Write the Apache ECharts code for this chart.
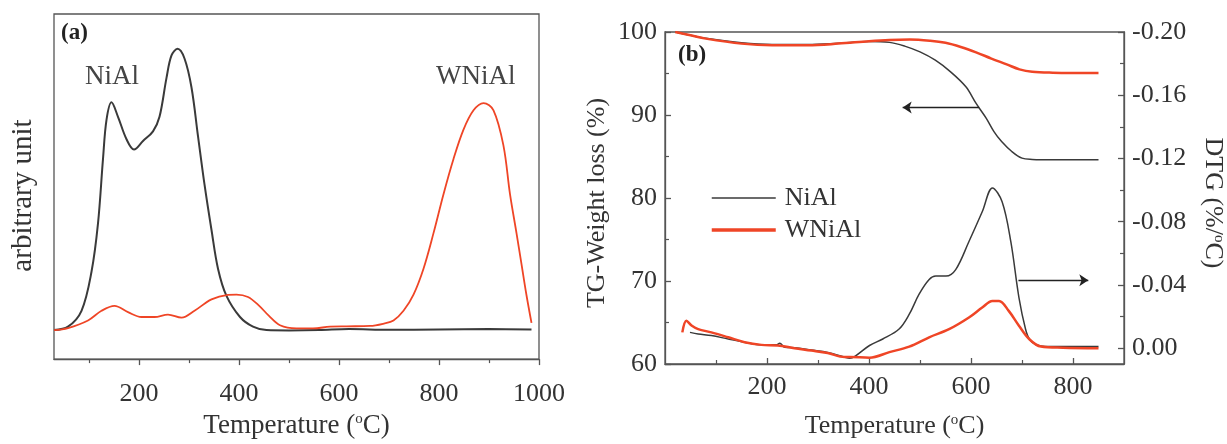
<!DOCTYPE html>
<html>
<head>
<meta charset="utf-8">
<script src="https://cdn.jsdelivr.net/npm/echarts@6/dist/echarts.min.js"></script>
<style>
  html, body { margin: 0; padding: 0; background: #fff; }
  #chart { width: 1227px; height: 444px; }
</style>
</head>
<body>
<div id="chart"></div>
<script>
// (a) reduction profiles, arbitrary units
const tprTempNiAl = [30, 58, 85, 105, 118, 128, 135, 145, 158, 175, 190, 208, 228, 241, 255, 265, 277, 291, 305, 318, 331, 345, 358, 375, 402, 428, 455, 500, 560, 620, 700, 800, 900, 985];
const tprNiAl     = [8.4, 9.4, 14, 25.3, 39.3, 58, 69.3, 74.4, 70.2, 63.7, 60.7, 63.2, 66, 70.2, 81.5, 88, 89.9, 87.1, 78.7, 64.6, 50.6, 37.4, 26.2, 18.3, 12.2, 9.4, 8.4, 8.3, 8.4, 8.7, 8.5, 8.6, 8.7, 8.6];
const tprTempWNiAl = [30, 58, 98, 125, 151, 178, 205, 231, 258, 285, 311, 345, 378, 395, 418, 440, 460, 482, 515, 548, 582, 615, 662, 690, 709, 729, 749, 769, 789, 809, 829, 849, 869, 889, 909, 929, 942, 955, 965, 975, 985];
const tprWNiAl     = [8.4, 9, 11.2, 14, 15.4, 13.6, 12.2, 12.2, 12.9, 12, 14, 17.3, 18.6, 18.7, 18, 15.5, 12.5, 9.8, 8.9, 8.9, 9.4, 9.5, 9.6, 10.3, 11.2, 14, 18.7, 26.2, 36.5, 47.8, 58, 66.5, 72.1, 74.2, 72.1, 61.8, 47.8, 36.5, 27.5, 18.5, 10.5];

// (b) thermogravimetric weight, %
const tgTempNiAl = [20, 50, 80, 150, 210, 280, 340, 400, 440, 470, 500, 530, 560, 590, 610, 630, 645, 660, 680, 700, 720, 760, 850];
const tgNiAl     = [100, 99.6, 99.25, 98.7, 98.5, 98.5, 98.65, 98.85, 98.75, 98.3, 97.6, 96.6, 95.2, 93.4, 91.4, 89.6, 88.0, 86.8, 85.6, 84.8, 84.65, 84.6, 84.6];
const tgTempWNiAl = [20, 50, 80, 150, 210, 280, 340, 400, 440, 480, 520, 550, 580, 610, 640, 670, 695, 720, 760, 850];
const tgWNiAl     = [100, 99.6, 99.2, 98.6, 98.4, 98.4, 98.6, 98.9, 99.05, 99.1, 98.95, 98.7, 98.2, 97.55, 96.8, 96.1, 95.5, 95.2, 95.1, 95.05];

// (b) derivative weight, %/°C
const dtgTempNiAl = [49, 65, 91, 124, 156, 189, 218, 225, 235, 254, 287, 319, 352, 362, 373, 401, 427, 459, 479, 498, 518, 531, 551, 570, 596, 622, 642, 661, 678, 694, 707, 715, 728, 745, 780, 850];
const dtgNiAl     = [-0.010, -0.009, -0.008, -0.0058, -0.0038, -0.0021, -0.0021, -0.0031, -0.0006, -0.0003, 0.0012, 0.0027, 0.0056, 0.0063, 0.005, -0.0017, -0.0058, -0.0121, -0.0215, -0.034, -0.0434, -0.0456, -0.0456, -0.0497, -0.0675, -0.0863, -0.1014, -0.0926, -0.0675, -0.032, -0.012, -0.0055, -0.0022, -0.001, -0.001, -0.001];
const dtgTempWNiAl = [34, 42, 52, 65, 91, 124, 156, 189, 221, 254, 287, 319, 352, 362, 401, 440, 479, 518, 557, 596, 622, 642, 655, 674, 694, 714, 737, 780, 850];
const dtgWNiAl     = [-0.010, -0.0174, -0.0143, -0.0121, -0.010, -0.0069, -0.0038, -0.0021, -0.0017, 0.0, 0.0015, 0.0031, 0.0056, 0.0056, 0.006, 0.0025, -0.001, -0.0069, -0.012, -0.0194, -0.0257, -0.0299, -0.0299, -0.0236, -0.0142, -0.0058, -0.001, -0.0003, 0.0];

// tick positions
const tprTicks = [200, 400, 600, 800, 1000];
const tprMinorTicks = [100, 300, 500, 700, 900];
const tgTicks = [200, 400, 600, 800];
const tgMinorTicks = [100, 300, 500, 700];
const dtgTicks = [-0.20, -0.16, -0.12, -0.08, -0.04, 0.00];
const dtgMinorTicks = [-0.18, -0.14, -0.10, -0.06, -0.02];

const pairs = (xs, ys) => xs.map((x, i) => [x, ys[i]]);

const SERIF = '"Liberation Serif", "Times New Roman", serif';
const INK = '#333';
const FRAME = '#555';
const BLACK = '#3a3a3a';
const RED = '#ef4526';
const supRich = { s: { fontSize: 15, fontFamily: SERIF, color: INK, verticalAlign: 'top', lineHeight: 14 } };
const noMarker = { color: 'transparent', borderWidth: 0, opacity: 0 };

const chart = echarts.init(document.getElementById('chart'), null, { renderer: 'canvas' });

const lineBase = { type: 'line', symbol: 'none', showSymbol: false, smooth: 0.35, animation: false };

chart.setOption({
  animation: false,
  backgroundColor: '#fff',
  grid: [
    { left: 54, top: 14, width: 485, height: 356, show: true, borderColor: FRAME, borderWidth: 1.3, backgroundColor: 'transparent' },
    { left: 665, top: 32, width: 461, height: 335, show: true, borderColor: FRAME, borderWidth: 1.3, backgroundColor: 'transparent' }
  ],
  xAxis: [
    {
      gridIndex: 0, type: 'value', position: 'bottom', min: 30, max: 1000,
      axisLine: { onZero: false, lineStyle: { color: FRAME, width: 1.3 } },
      axisTick: { inside: false, length: 6, customValues: tprTicks, lineStyle: { color: FRAME, width: 1.3 } },
      axisLabel: { customValues: tprTicks, margin: 22, fontFamily: SERIF, fontSize: 26, color: INK, formatter: v => String(v) },
      splitLine: { show: false },
      name: 'Temperature ({s|o}C)', nameLocation: 'middle', nameGap: 50,
      nameTextStyle: { fontFamily: SERIF, fontSize: 27, color: INK, rich: supRich }
    },
    {
      gridIndex: 0, type: 'value', position: 'bottom', min: 30, max: 1000,
      axisLine: { show: false, onZero: false },
      axisTick: { inside: false, length: 4, customValues: tprMinorTicks, lineStyle: { color: FRAME, width: 1.2 } },
      axisLabel: { show: false }, splitLine: { show: false }
    },
    {
      gridIndex: 1, type: 'value', position: 'bottom', min: 0, max: 900,
      axisLine: { onZero: false, lineStyle: { color: FRAME, width: 1.3 } },
      axisTick: { inside: true, length: 6, customValues: tgTicks, lineStyle: { color: FRAME, width: 1.3 } },
      axisLabel: { customValues: tgTicks, margin: 10, fontFamily: SERIF, fontSize: 26, color: INK, formatter: v => String(v) },
      splitLine: { show: false },
      name: 'Temperature ({s|o}C)', nameLocation: 'middle', nameGap: 49,
      nameTextStyle: { fontFamily: SERIF, fontSize: 26, color: INK, rich: supRich }
    },
    {
      gridIndex: 1, type: 'value', position: 'bottom', min: 0, max: 900,
      axisLine: { show: false, onZero: false },
      axisTick: { inside: true, length: 4, customValues: tgMinorTicks, lineStyle: { color: FRAME, width: 1.2 } },
      axisLabel: { show: false }, splitLine: { show: false }
    }
  ],
  yAxis: [
    {
      gridIndex: 0, type: 'value', min: 0, max: 100,
      axisLine: { show: false, onZero: false }, axisTick: { show: false }, axisLabel: { show: false }, splitLine: { show: false },
      name: 'arbitrary unit', nameLocation: 'middle', nameGap: 16,
      nameTextStyle: { fontFamily: SERIF, fontSize: 29, color: INK, padding: [0, 18, 0, 0] }
    },
    {
      gridIndex: 1, type: 'value', position: 'left', min: 60, max: 100, interval: 10,
      axisLine: { show: true, onZero: false, lineStyle: { color: FRAME, width: 1.3 } },
      axisTick: { inside: true, length: 6, lineStyle: { color: FRAME, width: 1.3 } },
      minorTick: { show: true, splitNumber: 2, length: 4, lineStyle: { color: FRAME, width: 1.2 } },
      axisLabel: { margin: 8, fontFamily: SERIF, fontSize: 26, color: INK },
      splitLine: { show: false },
      name: 'TG-Weight loss (%)', nameLocation: 'middle', nameGap: 55,
      nameTextStyle: { fontFamily: SERIF, fontSize: 26, color: INK, padding: [0, 10, 0, 0] }
    },
    {
      gridIndex: 1, type: 'value', position: 'right', inverse: true, min: -0.2, max: 0.01,
      axisLine: { show: true, onZero: false, lineStyle: { color: FRAME, width: 1.3 } },
      axisTick: { inside: true, length: 6, customValues: dtgTicks, lineStyle: { color: FRAME, width: 1.3 } },
      axisLabel: { customValues: dtgTicks, margin: 8, fontFamily: SERIF, fontSize: 26, color: INK,
                   formatter: v => v.toFixed(2) },
      splitLine: { show: false },
      name: 'DTG (%/{s|o}C)', nameLocation: 'middle', nameGap: 76, nameRotate: -90,
      nameTextStyle: { fontFamily: SERIF, fontSize: 26, color: INK, rich: supRich, padding: [0, 0, 0, 10] }
    },
    {
      gridIndex: 1, type: 'value', position: 'right', inverse: true, min: -0.2, max: 0.01,
      axisLine: { show: false, onZero: false },
      axisTick: { inside: true, length: 4, customValues: dtgMinorTicks, lineStyle: { color: FRAME, width: 1.2 } },
      axisLabel: { show: false }, splitLine: { show: false }
    }
  ],
  legend: {
    orient: 'vertical', left: 705, top: 180, itemWidth: 64, itemHeight: 14, itemGap: 6,
    textStyle: { fontFamily: SERIF, fontSize: 26, color: INK, padding: [0, 0, 0, 4] },
    selectedMode: false,
    data: [
      { name: 'NiAl', itemStyle: noMarker, lineStyle: { color: BLACK, width: 1.6 } },
      { name: 'WNiAl', itemStyle: noMarker, lineStyle: { color: RED, width: 3.5 } }
    ]
  },
  graphic: [
    { type: 'text', left: 61, top: 22, style: { text: '(a)', font: 'bold 23px ' + SERIF, fill: '#222' } },
    { type: 'text', left: 85, top: 63, style: { text: 'NiAl', font: '27px ' + SERIF, fill: '#444' } },
    { type: 'text', left: 436, top: 63, style: { text: 'WNiAl', font: '27px ' + SERIF, fill: '#444' } },
    { type: 'text', left: 678, top: 44, style: { text: '(b)', font: 'bold 23px ' + SERIF, fill: '#222' } }
  ],
  series: [
    Object.assign({}, lineBase, {
      name: 'NiAl', xAxisIndex: 2, yAxisIndex: 1, data: pairs(tgTempNiAl, tgNiAl),
      lineStyle: { color: BLACK, width: 1.5 }, itemStyle: { color: BLACK }, z: 3,
      markLine: {
        silent: true, symbol: ['none', 'arrow'], symbolSize: 9, animation: false,
        label: { show: false }, lineStyle: { color: '#222', width: 1.3, type: 'solid' },
        data: [[{ coord: [616, 90.9] }, { coord: [466, 90.9] }]]
      }
    }),
    Object.assign({}, lineBase, {
      name: 'WNiAl', xAxisIndex: 2, yAxisIndex: 1, data: pairs(tgTempWNiAl, tgWNiAl),
      lineStyle: { color: RED, width: 2.5 }, itemStyle: { color: RED }, z: 4
    }),
    Object.assign({}, lineBase, {
      name: 'NiAl', xAxisIndex: 2, yAxisIndex: 2, data: pairs(dtgTempNiAl, dtgNiAl),
      lineStyle: { color: BLACK, width: 1.5 }, itemStyle: { color: BLACK }, z: 3,
      markLine: {
        silent: true, symbol: ['none', 'arrow'], symbolSize: 9, animation: false,
        label: { show: false }, lineStyle: { color: '#222', width: 1.3, type: 'solid' },
        data: [[{ coord: [693, -0.043] }, { coord: [830, -0.043] }]]
      }
    }),
    Object.assign({}, lineBase, {
      name: 'WNiAl', xAxisIndex: 2, yAxisIndex: 2, data: pairs(dtgTempWNiAl, dtgWNiAl),
      lineStyle: { color: RED, width: 2.5 }, itemStyle: { color: RED }, z: 4
    }),
    Object.assign({}, lineBase, {
      name: 'NiAl', xAxisIndex: 0, yAxisIndex: 0, data: pairs(tprTempNiAl, tprNiAl),
      lineStyle: { color: BLACK, width: 2 }, itemStyle: { color: BLACK }, z: 3
    }),
    Object.assign({}, lineBase, {
      name: 'WNiAl', xAxisIndex: 0, yAxisIndex: 0, data: pairs(tprTempWNiAl, tprWNiAl),
      lineStyle: { color: RED, width: 1.8 }, itemStyle: { color: RED }, z: 4
    })
  ]
});
</script>
</body>
</html>
